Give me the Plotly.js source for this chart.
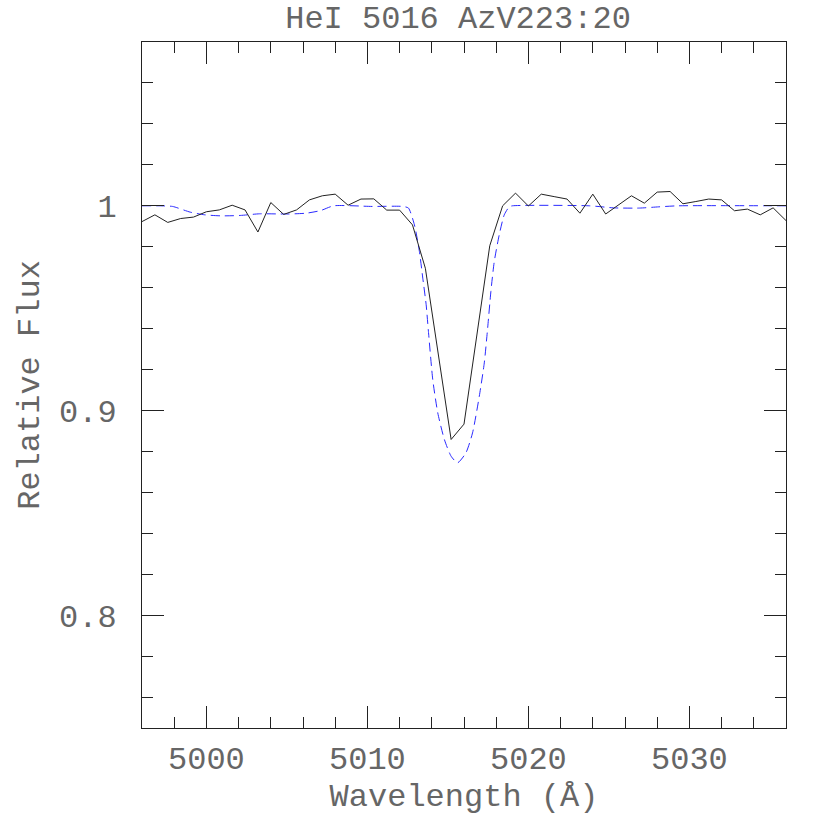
<!DOCTYPE html>
<html>
<head>
<meta charset="utf-8">
<script src="https://cdn.plot.ly/plotly-3.0.1.min.js"></script>
<style>
  html, body { margin: 0; padding: 0; background: #fff; }
  #graph { width: 830px; height: 830px; }
</style>
</head>
<body>
<div id="graph"></div>
<script>
'use strict';

// observed spectrum, 0.8 A steps from 4996
var obsWave = [4996.0, 4996.8, 4997.6, 4998.4, 4999.2, 5000.0, 5000.8, 5001.6, 5002.4, 5003.2,
  5004.0, 5004.8, 5005.6, 5006.4, 5007.2, 5008.0, 5008.8, 5009.6, 5010.4, 5011.2,
  5012.0, 5012.8, 5013.6, 5014.4, 5015.2, 5016.0, 5016.8, 5017.6, 5018.4, 5019.2,
  5020.0, 5020.8, 5021.6, 5022.4, 5023.2, 5024.0, 5024.8, 5025.6, 5026.4, 5027.2,
  5028.0, 5028.8, 5029.6, 5030.4, 5031.2, 5032.0, 5032.8, 5033.6, 5034.4, 5035.2, 5036.0];
var obsFlux = [0.9923, 0.9956, 0.9919, 0.9938, 0.9945, 0.9971, 0.9980, 1.0003, 0.9980, 0.9872,
  1.0016, 0.9958, 0.9980, 1.0029, 1.0049, 1.0057, 1.0003, 1.0033, 1.0034, 0.9979,
  0.9979, 0.9907, 0.9695, 0.9288, 0.8859, 0.8934, 0.9366, 0.9805, 1.0000, 1.0062,
  0.9999, 1.0057, 1.0045, 1.0033, 0.9964, 1.0057, 0.9960, 1.0003, 1.0049, 1.0013,
  1.0067, 1.0070, 1.0010, 1.0021, 1.0033, 1.0029, 0.9976, 0.9984, 0.9956, 0.9990, 0.9928];

// model profile (dashed blue)
var modelWave = [4996.0, 4997.1, 4997.9, 4999.0, 4999.9, 5000.9, 5002.1, 5003.3, 5005.0, 5006.2,
  5007.1, 5007.9, 5010.3, 5012.2, 5012.55, 5012.92, 5013.23, 5013.44, 5013.65, 5013.79,
  5014.06, 5014.37, 5014.78, 5015.20, 5015.60, 5016.12, 5016.53, 5016.95, 5017.26, 5017.46,
  5017.67, 5017.88, 5018.19, 5018.50, 5018.81, 5019.0, 5023.8, 5025.3, 5026.9, 5028.1,
  5029.3, 5036.0];
var modelFlux = [1.0000, 1.0000, 0.9997, 0.9969, 0.9956, 0.9951, 0.9953, 0.9961, 0.9960, 0.9964,
  0.9977, 1.0000, 0.9997, 0.9997, 0.9989, 0.9907, 0.9777, 0.9647, 0.9517, 0.9387,
  0.9151, 0.8989, 0.8859, 0.8777, 0.8745, 0.8794, 0.8891, 0.9070, 0.9233, 0.9395,
  0.9582, 0.9728, 0.9859, 0.9956, 0.9995, 1.0000, 1.0000, 0.9990, 0.9989, 0.9995,
  1.0000, 1.0000];

var xTicks = [5000, 5010, 5020, 5030];
var yTicks = [0.8, 0.9, 1.0];
var yTickText = ['0.8', '0.9', '1'];

var textFont = { family: 'Liberation Mono, DejaVu Sans Mono, monospace', size: 32, color: '#666' };

var data = [{
  x: modelWave,
  y: modelFlux,
  mode: 'lines',
  line: { color: '#2a2aff', width: 1, dash: '9px,5px', shape: 'spline', smoothing: 0.6 },
  hoverinfo: 'skip'
}, {
  x: obsWave,
  y: obsFlux,
  mode: 'lines',
  line: { color: '#222', width: 1 }
}];

var layout = {
  width: 830,
  height: 830,
  showlegend: false,
  paper_bgcolor: '#fff',
  plot_bgcolor: '#fff',
  margin: { l: 142, r: 44, t: 42, b: 102 },
  title: {
    text: 'HeI 5016 AzV223:20',
    font: textFont,
    xref: 'container',
    yref: 'container',
    x: 458 / 830,
    y: 1 - 17 / 830,
    xanchor: 'center',
    yanchor: 'middle'
  },
  xaxis: {
    range: [4996, 5036],
    tickmode: 'array',
    tickvals: xTicks,
    ticks: 'inside',
    ticklen: 22,
    tickcolor: '#222',
    tickfont: textFont,
    ticklabelstandoff: 2,
    showgrid: false,
    zeroline: false,
    showline: true,
    linecolor: '#222',
    linewidth: 1,
    mirror: 'allticks',
    minor: { tickmode: 'linear', tick0: 5000, dtick: 2, ticks: 'inside', ticklen: 11, tickcolor: '#222', showgrid: false },
    title: { text: 'Wavelength (Å)', font: textFont, standoff: 2 }
  },
  yaxis: {
    range: [0.745, 1.08],
    tickmode: 'array',
    tickvals: yTicks,
    ticktext: yTickText,
    ticks: 'inside',
    ticklen: 22,
    tickcolor: '#222',
    tickfont: textFont,
    ticklabelstandoff: 18,
    showgrid: false,
    zeroline: false,
    showline: true,
    linecolor: '#222',
    linewidth: 1,
    mirror: 'allticks',
    minor: { tickmode: 'linear', tick0: 0.8, dtick: 0.02, ticks: 'inside', ticklen: 11, tickcolor: '#222', showgrid: false },
    title: { text: 'Relative Flux', font: textFont, standoff: 9 }
  }
};

Plotly.newPlot('graph', data, layout, { displayModeBar: false, staticPlot: true });
</script>
</body>
</html>
